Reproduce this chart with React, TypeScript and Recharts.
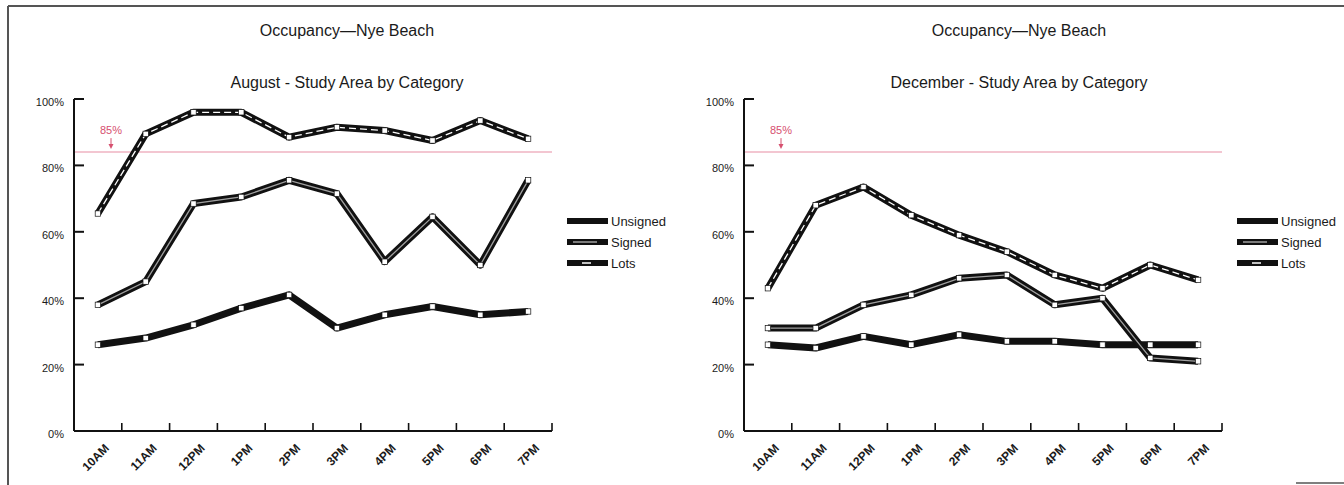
import React from "react";
import { LineChart, Line, XAxis, YAxis, ReferenceLine, Legend } from "recharts";

const hours = ["10AM", "11AM", "12PM", "1PM", "2PM", "3PM", "4PM", "5PM", "6PM", "7PM"];

// August
const augUnsigned = [26, 28, 32, 37, 41, 31, 35, 37.5, 35, 36];
const augSigned = [38, 45, 68.5, 70.5, 75.5, 71.5, 51, 64.5, 50, 75.5];
const augLots = [65.5, 89.5, 96, 96, 88.5, 91.5, 90.5, 87.5, 93.5, 88];

// December
const decUnsigned = [26, 25, 28.5, 26, 29, 27, 27, 26, 26, 26];
const decSigned = [31, 31, 38, 41, 46, 47, 38, 40, 22, 21];
const decLots = [43, 68, 73.5, 65, 59, 54, 47, 43, 50, 45.5];

const yTicks = [0, 20, 40, 60, 80, 100];
const targetLine = 84;
const targetLabel = "85%";

const series = [
  { key: "unsigned", name: "Unsigned", inner: "transparent", dash: undefined as string | undefined },
  { key: "signed", name: "Signed", inner: "#a0a0a0", dash: undefined as string | undefined },
  { key: "lots", name: "Lots", inner: "#ffffff", dash: "7 4" },
];

const FONT = '"Liberation Sans", Arial, Helvetica, sans-serif';
const NARROW = '"Liberation Sans Narrow", "Liberation Sans", Arial, sans-serif';
const INK = "#111";
const PINK_LINE = "#efb3c2";
const PINK_TEXT = "#d6506f";

const CHART_H = 485;
const PLOT_W = 478;
const HALF = PLOT_W / 20;

function rows(u: number[], s: number[], l: number[]) {
  return hours.map((h, i) => ({ hour: h, unsigned: u[i], signed: s[i], lots: l[i] }));
}

const augData = rows(augUnsigned, augSigned, augLots);
const decData = rows(decUnsigned, decSigned, decLots);

const SquareDot = (props: any) => {
  const { cx, cy, index } = props;
  if (cx == null || cy == null) return null;
  return (
    <rect key={index} x={cx - 2.7} y={cy - 2.7} width={5.4} height={5.4} fill="#fff" stroke={INK} strokeWidth={0.7} />
  );
};

const XTick = (props: any) => {
  const { x, y, payload } = props;
  const ax = x + 12;
  const ay = y + 18;
  return (
    <g>
      <line x1={x + HALF} y1={y} x2={x + HALF} y2={y - 8} stroke={INK} strokeWidth={1.6} />
      <text
        x={ax}
        y={ay}
        transform={`rotate(-45 ${ax} ${ay})`}
        textAnchor="end"
        fontSize={12}
        fontWeight="bold"
        fontFamily={NARROW}
        fill="#1a1a1a"
      >
        {payload.value}
      </text>
    </g>
  );
};

const YTick = (props: any) => {
  const { x, y, payload } = props;
  return (
    <g>
      {payload.value > 0 && <line x1={x} y1={y} x2={x + 10} y2={y} stroke={INK} strokeWidth={2} />}
      <text x={x - 10} y={y + 7} textAnchor="end" fontSize={11} fontFamily={NARROW} fill="#1a1a1a">
        {payload.value}%
      </text>
    </g>
  );
};

const TargetMark = (props: any) => {
  const { viewBox } = props;
  if (!viewBox) return null;
  const x = viewBox.x + 37;
  const y = viewBox.y;
  return (
    <g>
      <text x={x} y={y - 18} textAnchor="middle" fontSize={11} fontFamily={FONT} fill={PINK_TEXT}>
        {targetLabel}
      </text>
      <line x1={x} y1={y - 14} x2={x} y2={y - 6} stroke={PINK_TEXT} strokeWidth={1} />
      <path d={`M${x - 2.5},${y - 8} L${x + 2.5},${y - 8} L${x},${y - 3} Z`} fill={PINK_TEXT} />
    </g>
  );
};

const LegendBox = () => (
  <svg width={110} height={64} style={{ display: "block" }}>
    {series.map((s, i) => {
      const cy = 8 + i * 21;
      return (
        <g key={s.key}>
          <rect x={0} y={cy - 3} width={41} height={6} fill={INK} />
          {s.key !== "unsigned" && (
            <line
              x1={s.dash ? 15 : 6}
              y1={cy}
              x2={s.dash ? 24 : 30}
              y2={cy}
              stroke={s.inner}
              strokeWidth={1.5}
            />
          )}
          <text x={44} y={cy + 4.5} fontSize={13} fontFamily={FONT} fill="#1a1a1a">
            {s.name}
          </text>
        </g>
      );
    })}
  </svg>
);

function OccupancyChart({ data, width }: { data: any[]; width: number }) {
  return (
    <LineChart
      width={width}
      height={CHART_H}
      data={data}
      margin={{ top: 99, right: width - 74 - PLOT_W, left: 30, bottom: 4 }}
    >
      <XAxis
        dataKey="hour"
        height={50}
        padding={{ left: HALF, right: HALF }}
        tickSize={0}
        tickMargin={0}
        interval={0}
        axisLine={{ stroke: INK, strokeWidth: 2 }}
        tick={<XTick />}
      />
      <YAxis
        width={44}
        domain={[0, 100]}
        ticks={yTicks}
        tickSize={0}
        tickMargin={0}
        axisLine={{ stroke: INK, strokeWidth: 2 }}
        tick={<YTick />}
      />
      <ReferenceLine y={targetLine} stroke={PINK_LINE} strokeWidth={1.5} label={<TargetMark />} />
      {series.map((s) => (
        <Line
          key={s.key + "-outer"}
          type="linear"
          dataKey={s.key}
          stroke={INK}
          strokeWidth={7}
          strokeLinejoin="round"
          dot={false}
          legendType="none"
          isAnimationActive={false}
        />
      ))}
      {series.map((s) => (
        <Line
          key={s.key + "-inner"}
          type="linear"
          dataKey={s.key}
          stroke={s.inner}
          strokeWidth={1.3}
          strokeDasharray={s.dash}
          dot={SquareDot}
          legendType="none"
          isAnimationActive={false}
        />
      ))}
      <Legend
        layout="vertical"
        align="center"
        verticalAlign="middle"
        content={<LegendBox />}
        wrapperStyle={{ left: 567, top: 213, width: 110, height: 64 }}
      />
    </LineChart>
  );
}

export default function App() {
  return (
    <div style={{ position: "absolute", left: 0, top: 0, width: 1344, height: 485, background: "#fff", overflow: "hidden" }}>
      <div style={{ position: "absolute", left: 0, top: 0 }}>
        <OccupancyChart data={augData} width={660} />
      </div>
      <div style={{ position: "absolute", left: 670, top: 0 }}>
        <OccupancyChart data={decData} width={674} />
      </div>
      <svg width={1344} height={485} style={{ position: "absolute", left: 0, top: 0, pointerEvents: "none" }}>
        <line x1={8} y1={6} x2={1344} y2={6} stroke="#555" strokeWidth={2} />
        <line x1={8} y1={6} x2={8} y2={485} stroke="#555" strokeWidth={2} />
        <line x1={1296} y1={483} x2={1344} y2={483} stroke="#555" strokeWidth={1.5} />
        <g fontFamily={FONT} fontSize={16} fill="#1a1a1a" textAnchor="middle">
          <text x={347} y={36}>Occupancy—Nye Beach</text>
          <text x={347} y={88}>August - Study Area by Category</text>
          <text x={1019} y={36}>Occupancy—Nye Beach</text>
          <text x={1019} y={88}>December - Study Area by Category</text>
        </g>
      </svg>
    </div>
  );
}
